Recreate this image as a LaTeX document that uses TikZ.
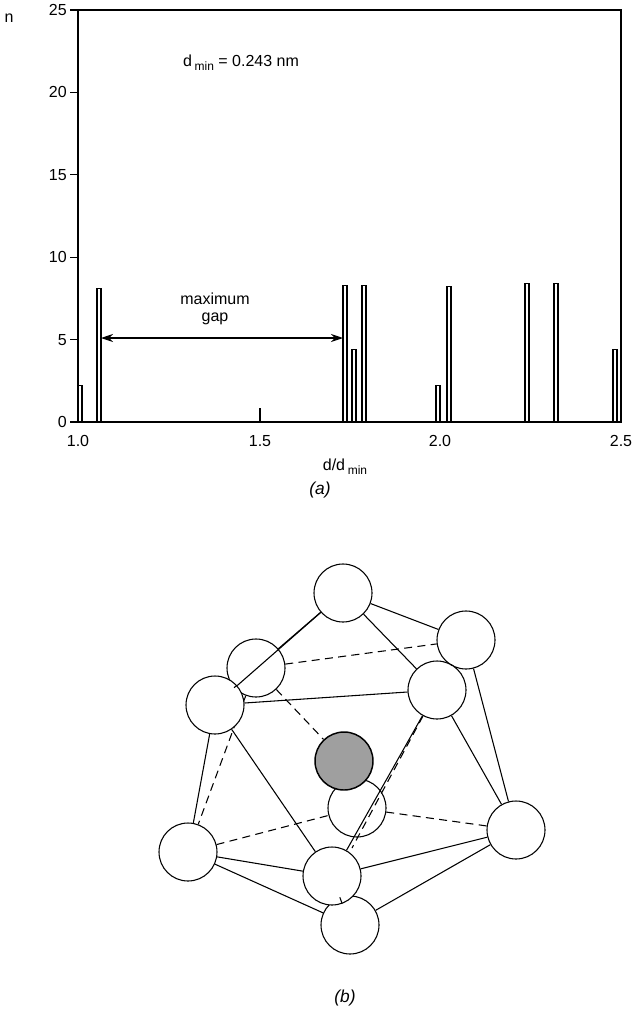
\documentclass[tikz,border=0pt]{standalone}
\usepackage{fontspec}
\setmainfont{Liberation Sans}
\usetikzlibrary{arrows.meta}
\begin{document}
\begin{tikzpicture}[x=0.75pt,y=-0.75pt,
  lab/.style={font=\fontsize{12}{14}\selectfont,inner sep=0pt},
  bar/.style={draw,fill=white,line width=0.8pt},
  atom/.style={circle,draw,fill=white,line width=0.8pt,minimum size=43.5pt,inner sep=0pt},
  ctr/.style={atom,fill=gray!75,line width=1.1pt},
  edge/.style={line width=0.8pt},
  hid/.style={line width=0.8pt,dash pattern=on 6pt off 4pt}]
\useasboundingbox (0,0) rectangle (640,1017);
% plot frame
\draw[line width=0.9pt] (78,10) rectangle (621,422);
\foreach \k/\t in {0/0,5/5,10/10,15/15,20/20,25/25}{
  \draw[line width=0.8pt] (70,422-16.48*\k) -- (78,422-16.48*\k);
  \node[lab,anchor=east] (yt\k) at (67,422-16.48*\k) {\t};
}
\draw[line width=0.8pt] (260,422) -- (260,408);
\node[lab] (x10) at (78,441) {1.0};
\node[lab] (x15) at (260,441) {1.5};
\node[lab] (x20) at (440,441) {2.0};
\node[lab] (x25) at (621,441) {2.5};
\node[lab] (xl) at (345,467) {d/d\,{\fontsize{9}{10}\selectfont\raisebox{-3pt}{min}}};
\node[lab] (yl) at (9,18) {n};
\node[lab] (dm) at (241,63) {d\,{\fontsize{9}{10}\selectfont\raisebox{-3pt}{min}} = 0.243 nm};
% bars
\foreach \xa/\h in {78/2.2,97/8.1,343/8.3,352/4.4,362/8.3,436/2.2,447/8.2,525/8.4,554/8.4,613/4.4}{
  \draw[bar] (\xa,422) rectangle (\xa+4,422-16.48*\h);
}
\coordinate (ga) at (101,338);
\coordinate (gb) at (343,338);
\draw[line width=0.8pt,{Stealth[length=9pt,width=6pt]}-{Stealth[length=9pt,width=6pt]}] (ga) -- (gb);
\node[lab] (gl) at (215,299) {maximum};
\node[lab] (gl2) at (215,319) {gap};
\node[font=\itshape\fontsize{13}{15}\selectfont] (ca) at (320,490) {(a)};
\node[font=\itshape\fontsize{13}{15}\selectfont] (cb) at (345,998) {(b)};
% icosahedron: back circles
\node[atom] (a1) at (343,593) {};
\node[atom] (a2) at (256,668) {};
\node[atom] (a3) at (466,640) {};
\node[atom] (a7) at (357,808) {};
\node[ctr] (a6) at (344,761) {};
\node[atom] (a8) at (188,852) {};
\node[atom] (a9) at (516,830) {};
\node[atom] (a11) at (350,925) {};
% hidden edges
\draw[hid] (a2) -- (a3);
\draw[hid] (a2) -- (a6);
\draw[hid] (a2) -- (a8);
\draw[hid] (a8) -- (a7);
\draw[hid] (a7) -- (a9);
% front circles
\node[atom] (a4) at (215,705) {};
\node[atom] (a5) at (437,690) {};
\node[atom] (a10) at (332,876) {};
\coordinate (h10) at (352,848);
\draw[hid] (a5) -- (h10);
% visible edges
\draw[edge] (a1) -- (a2);
\draw[edge] (a1) -- (a4);
\draw[edge] (a1) -- (a5);
\draw[edge] (a1) -- (a3);
\draw[edge] (a2) -- (a4);
\draw[edge] (a3) -- (a5);
\draw[edge] (a3) -- (a9);
\draw[edge] (a4) -- (a5);
\draw[edge] (a4) -- (a8);
\draw[edge] (a4) -- (a10);
\draw[edge] (a5) -- (a9);
\draw[edge] (a5) -- (a10);
\draw[edge] (a8) -- (a10);
\draw[edge] (a8) -- (a11);
\draw[edge] (a10) -- (a9);
\draw[edge] (a11) -- (a9);
\draw[edge] (a10) -- (a11);
\end{tikzpicture}
\end{document}
